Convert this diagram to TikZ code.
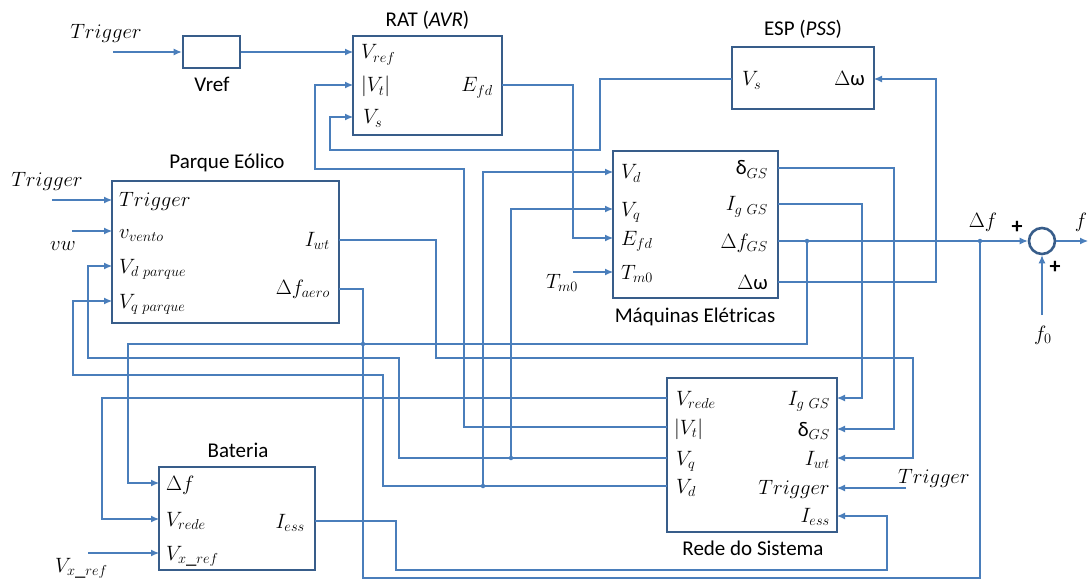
\documentclass[tikz,border=0pt]{standalone}
\usepackage{fontspec}
\setmainfont{Carlito}
\DeclareMathSizes{20.74}{20.74}{15.5}{12}
\usetikzlibrary{arrows.meta}
\definecolor{boxc}{HTML}{385D8A}
\definecolor{linec}{HTML}{4A7EBB}
\begin{document}
\begin{tikzpicture}[x=1pt,y=-1pt,
  blk/.style={draw=boxc, line width=2.6pt, fill=white, inner sep=0pt, rectangle},
  wire/.style={draw=linec, line width=1.1pt},
  arr/.style={wire, -{Latex[length=8pt,width=7pt]}},
  lab/.style={font=\fontsize{20.74}{24}\selectfont, inner sep=0pt},
  ttl/.style={font=\fontsize{21}{25}\selectfont, inner sep=0pt},
  plus/.style={font=\fontsize{22}{24}\selectfont\bfseries, inner sep=0pt},
  jdot/.style={circle, fill=linec, inner sep=0pt, minimum size=4.5pt},
]
\useasboundingbox (0,0) rectangle (1089,580);

% ---------- blocks ----------
\node[blk, minimum width=57pt, minimum height=32pt] (vrefbox) at (211.5,52) {};
\node[blk, minimum width=149pt, minimum height=99pt] (rat) at (427.5,85.5) {};
\node[blk, minimum width=142pt, minimum height=62pt] (esp) at (803,78) {};
\node[blk, minimum width=165pt, minimum height=147pt] (maq) at (695.5,224.5) {};
\node[blk, minimum width=227pt, minimum height=142pt] (par) at (225.5,252) {};
\node[blk, minimum width=156pt, minimum height=103pt] (bat) at (237,518.5) {};
\node[blk, minimum width=170pt, minimum height=154pt] (rede) at (752,455) {};
\node[circle, draw=boxc, line width=2.6pt, minimum size=26pt, inner sep=0pt] (sum) at (1042,241) {};

% ---------- titles ----------
\node[ttl, anchor=base] (t-vref) at (212,92) {Vref};
\node[ttl, anchor=base] (t-rat) at (427.5,27) {RAT (\textit{AVR})};
\node[ttl, anchor=base] (t-esp) at (803,36) {ESP (\textit{PSS})};
\node[ttl, anchor=base] (t-par) at (227,169) {Parque Eólico};
\node[ttl, anchor=base] (t-maq) at (695,322) {Máquinas Elétricas};
\node[ttl, anchor=base] (t-rede) at (753,555) {Rede do Sistema};
\node[ttl, anchor=base] (t-bat) at (238,457) {Bateria};

% ---------- port labels ----------
% RAT
\node[lab, anchor=base west] (l-rat-vref) at (361,59) {$V_{ref}$};
\node[lab, anchor=base west] (l-rat-vt) at (361,92) {$|V_t|$};
\node[lab, anchor=base west] (l-rat-vs) at (363,124) {$V_s$};
\node[lab, anchor=base east] (l-rat-efd) at (493,92) {$E_{fd}$};
% ESP
\node[lab, anchor=base west] (l-esp-vs) at (742,86) {$V_s$};
\node[lab, anchor=base east] (l-esp-dw) at (865,86) {$\Delta\mbox{ω}$};
% Maquinas
\node[lab, anchor=base west] (l-maq-vd) at (621,179) {$V_d$};
\node[lab, anchor=base west] (l-maq-vq) at (621,216) {$V_q$};
\node[lab, anchor=base west] (l-maq-efd) at (621,245) {$E_{fd}$};
\node[lab, anchor=base west] (l-maq-tm0) at (621,279) {$T_{m0}$};
\node[lab, anchor=base east] (l-maq-dgs) at (768,175) {$\mbox{δ}_{GS}$};
\node[lab, anchor=base east] (l-maq-ig) at (768,211) {$I_{g\ GS}$};
\node[lab, anchor=base east] (l-maq-dfgs) at (768,248) {$\Delta f_{GS}$};
\node[lab, anchor=base east] (l-maq-dw) at (768,289) {$\Delta\mbox{ω}$};
% Parque
\node[lab, anchor=base west] (l-par-trig) at (119,207) {$Trigger$};
\node[lab, anchor=base west] (l-par-vv) at (119,238) {$v_{vento}$};
\node[lab, anchor=base west] (l-par-vd) at (119,273) {$V_{d\ parque}$};
\node[lab, anchor=base west] (l-par-vq) at (119,308) {$V_{q\ parque}$};
\node[lab, anchor=base east] (l-par-iwt) at (330,246) {$I_{wt}$};
\node[lab, anchor=base east] (l-par-dfa) at (330,294) {$\Delta f_{aero}$};
% Bateria
\node[lab, anchor=base west] (l-bat-df) at (166,490) {$\Delta f$};
\node[lab, anchor=base west] (l-bat-vrede) at (166,526) {$V_{rede}$};
\node[lab, anchor=base west] (l-bat-vx) at (166,560) {$V_{x\_ref}$};
\node[lab, anchor=base east] (l-bat-iess) at (305,528) {$I_{ess}$};
% Rede
\node[lab, anchor=base west] (l-rede-vrede) at (676,405) {$V_{rede}$};
\node[lab, anchor=base west] (l-rede-vt) at (674,434) {$|V_t|$};
\node[lab, anchor=base west] (l-rede-vq) at (676,465) {$V_q$};
\node[lab, anchor=base west] (l-rede-vd) at (676,493) {$V_d$};
\node[lab, anchor=base east] (l-rede-ig) at (830,405) {$I_{g\ GS}$};
\node[lab, anchor=base east] (l-rede-dgs) at (830,436) {$\mbox{δ}_{GS}$};
\node[lab, anchor=base east] (l-rede-iwt) at (830,465) {$I_{wt}$};
\node[lab, anchor=base east] (l-rede-trig) at (830,494) {$Trigger$};
\node[lab, anchor=base east] (l-rede-iess) at (830,522) {$I_{ess}$};

% ---------- external labels ----------
\node[lab, anchor=base] (x-trigA) at (106,39) {$Trigger$};
\node[lab, anchor=base] (x-trigP) at (47,187) {$Trigger$};
\node[lab, anchor=base] (x-vw) at (63,250) {$vw$};
\node[lab, anchor=base west] (x-vx) at (55,572) {$V_{x\_ref}$};
\node[lab, anchor=base west] (x-tm0) at (546,288) {$T_{m0}$};
\node[lab, anchor=base west] (x-trigR) at (898,483) {$Trigger$};
\node[lab, anchor=base] (x-df) at (983,227) {$\Delta f$};
\node[lab, anchor=base] (x-f) at (1081,227) {$f$};
\node[lab, anchor=base] (x-f0) at (1043,340) {$f_0$};
\node[plus] (p1) at (1017,227) {+};
\node[plus] (p2) at (1055,267) {+};

% ---------- port coordinates ----------
\coordinate (rat-vref) at (353,52);
\coordinate (rat-vt) at (353,85);
\coordinate (rat-vs) at (353,117);
\coordinate (rat-efd) at (502,85);
\coordinate (esp-vs) at (732,79);
\coordinate (esp-dw) at (874,79);
\coordinate (maq-vd) at (613,172);
\coordinate (maq-vq) at (613,209);
\coordinate (maq-efd) at (613,238);
\coordinate (maq-tm0) at (613,272);
\coordinate (maq-dgs) at (778,168);
\coordinate (maq-ig) at (778,204);
\coordinate (maq-dfgs) at (778,241);
\coordinate (maq-dw) at (778,282);
\coordinate (par-trig) at (112,200);
\coordinate (par-vv) at (112,231);
\coordinate (par-vd) at (112,266);
\coordinate (par-vq) at (112,301);
\coordinate (par-iwt) at (339,240);
\coordinate (par-dfa) at (339,289);
\coordinate (bat-df) at (159,483);
\coordinate (bat-vrede) at (159,519);
\coordinate (bat-vx) at (159,553);
\coordinate (bat-iess) at (315,521);
\coordinate (rede-vrede) at (667,398);
\coordinate (rede-vt) at (667,427);
\coordinate (rede-vq) at (667,458);
\coordinate (rede-vd) at (667,486);
\coordinate (rede-ig) at (837,398);
\coordinate (rede-dgs) at (837,429);
\coordinate (rede-iwt) at (837,458);
\coordinate (rede-trig) at (837,488);
\coordinate (rede-iess) at (837,516);
% free ends and junctions
\coordinate (trigA) at (113,52);
\coordinate (trigP) at (52,200);
\coordinate (vwc) at (72,231);
\coordinate (vxc) at (88,553);
\coordinate (tm0) at (573,272);
\coordinate (trigR) at (906,488);
\coordinate (f0c) at (1042,315);
\coordinate (fout) at (1088,241);
\coordinate (dvd) at (483,486);
\coordinate (dvq) at (511,458);
\coordinate (ddf1) at (807,241);
\coordinate (ddf2) at (980,241);
\coordinate (ddf3) at (363,344);

% ---------- connectors ----------
\draw[arr] (trigA) -- (vrefbox.west);
\draw[arr] (vrefbox.east) -- (rat-vref);
\draw[arr] (rede-vt) -- (464,427) -- (464,169) -- (315,169) -- (315,85) -- (rat-vt);
\draw[arr] (esp-vs) -- (600,79) -- (600,150) -- (330,150) -- (330,117) -- (rat-vs);
\draw[arr] (rat-efd) -- (573,85) -- (573,238) -- (maq-efd);
\draw[arr] (maq-dw) -- (936,282) -- (936,79) -- (esp-dw);
\draw[arr] (tm0) -- (maq-tm0);
\draw[arr] (rede-vd) -- (383,486) -- (383,375) -- (73,375) -- (73,301) -- (par-vq);
\draw[arr] (dvd) -- (483,172) -- (maq-vd);
\draw[arr] (rede-vq) -- (399,458) -- (399,358) -- (88,358) -- (88,266) -- (par-vd);
\draw[arr] (dvq) -- (511,209) -- (maq-vq);
\draw[arr] (rede-vrede) -- (102,398) -- (102,519) -- (bat-vrede);
\draw[arr] (maq-dfgs) -- (sum.west);
\draw[arr] (ddf1) -- (807,344) -- (128,344) -- (128,483) -- (bat-df);
\draw[wire] (par-dfa) -- (363,289) -- (363,578) -- (980,578) -- (ddf2);
\draw[arr] (par-iwt) -- (436,240) -- (436,358) -- (913,358) -- (913,458) -- (rede-iwt);
\draw[arr] (maq-dgs) -- (894,168) -- (894,429) -- (rede-dgs);
\draw[arr] (maq-ig) -- (862,204) -- (862,398) -- (rede-ig);
\draw[arr] (trigR) -- (rede-trig);
\draw[arr] (bat-iess) -- (396,521) -- (396,570) -- (887,570) -- (887,516) -- (rede-iess);
\draw[arr] (trigP) -- (par-trig);
\draw[arr] (vwc) -- (par-vv);
\draw[arr] (vxc) -- (bat-vx);
\draw[arr] (f0c) -- (sum.south);
\draw[arr] (sum.east) -- (fout);

% ---------- junction dots ----------
\node[jdot] (j1) at (dvd) {};
\node[jdot] (j2) at (dvq) {};
\node[jdot] (j3) at (ddf1) {};
\node[jdot] (j4) at (ddf2) {};
\node[jdot] (j5) at (ddf3) {};
\end{tikzpicture}
\end{document}
